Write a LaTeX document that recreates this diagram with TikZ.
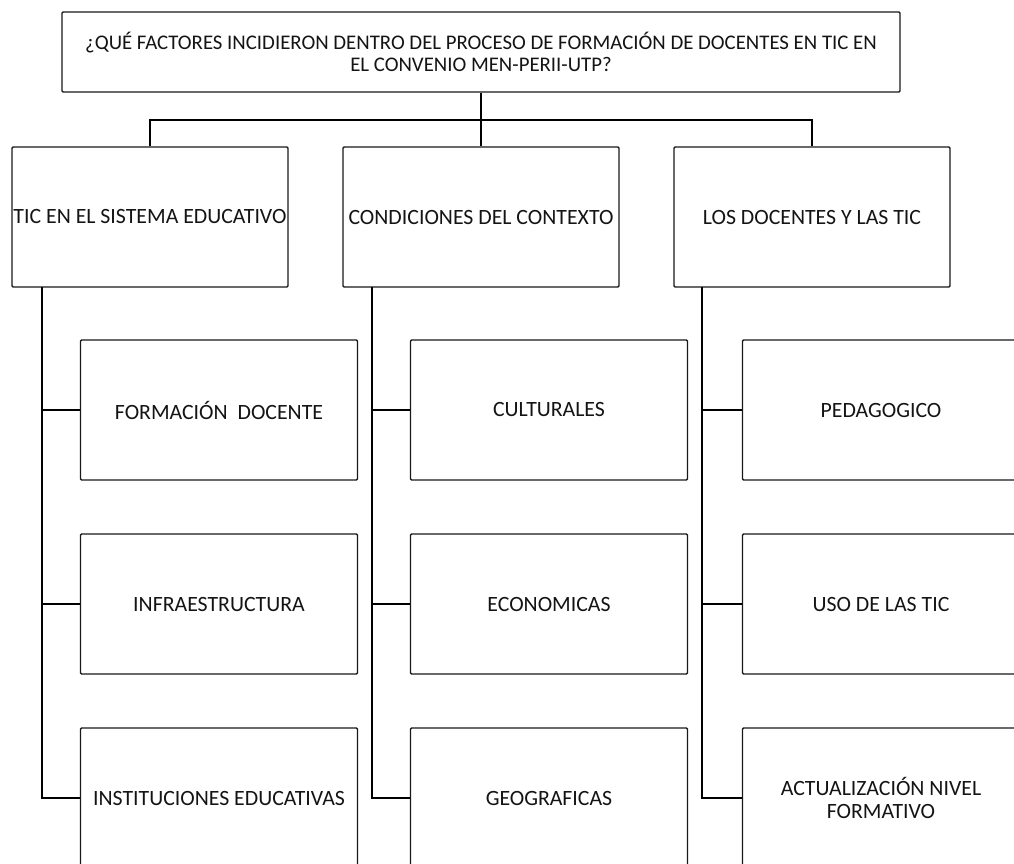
\documentclass[tikz,border=0pt]{standalone}
\usepackage{fontspec}
\setmainfont{Carlito}
\begin{document}
\begin{tikzpicture}[x=1pt,y=-1pt,
  box/.style={draw=black!90, line width=1.4pt, rounded corners=1.2pt, fill=white,
    inner sep=0pt, align=center, text=black!92,
    font=\fontsize{21.8}{23}\selectfont},
  topbox/.style={box, minimum width=838pt, minimum height=80pt,
    font=\fontsize{20.8}{21.5}\selectfont},
  lvlbox/.style={box, minimum width=276pt, minimum height=140pt},
  kidbox/.style={box, minimum width=277pt, minimum height=140pt},
  link/.style={draw=black, line width=2.4pt},
  thinlink/.style={draw=black, line width=1.6pt}]
\useasboundingbox (0,0) rectangle (1014,864);
\clip (0,0) rectangle (1014,864);
\fill[white] (0,0) rectangle (1014,864);

% nodes
\node[topbox] (top) at (481,52) {¿QUÉ FACTORES INCIDIERON DENTRO DEL PROCESO DE FORMACIÓN DE DOCENTES EN TIC EN\\EL CONVENIO MEN-PERII-UTP?};

\node[lvlbox] (b1) at (150,217) {TIC EN EL SISTEMA EDUCATIVO};
\node[lvlbox] (b2) at (481,217) {CONDICIONES DEL CONTEXTO};
\node[lvlbox] (b3) at (812,217) {LOS DOCENTES Y LAS TIC};

\node[kidbox] (c11) at (219,410) {FORMACIÓN\ \ DOCENTE};
\node[kidbox] (c12) at (219,604) {INFRAESTRUCTURA};
\node[kidbox] (c13) at (219,798) {INSTITUCIONES EDUCATIVAS};

\node[kidbox] (c21) at (549,410) {CULTURALES};
\node[kidbox] (c22) at (549,604) {ECONOMICAS};
\node[kidbox] (c23) at (549,798) {GEOGRAFICAS};

\node[kidbox] (c31) at (881,410) {PEDAGOGICO};
\node[kidbox] (c32) at (881,604) {USO DE LAS TIC};
\node[kidbox] (c33) at (881,798) {ACTUALIZACIÓN NIVEL\\FORMATIVO};

% coordinates
\coordinate (bar) at (150,120);
\coordinate (t1) at (42,287);
\coordinate (t2) at (372,287);
\coordinate (t3) at (702,287);

% top connectors
\draw[link] (top.south) -- (b2.north);
\draw[thinlink] (b1.north) -- (b1.north |- bar) -| (b3.north);

% trunks
\draw[link] (t1) |- (c13.west);
\draw[link] (t2) |- (c23.west);
\draw[link] (t3) |- (c33.west);
\draw[thinlink] (t1 |- c11.west) -- (c11.west);
\draw[thinlink] (t1 |- c12.west) -- (c12.west);
\draw[thinlink] (t2 |- c21.west) -- (c21.west);
\draw[thinlink] (t2 |- c22.west) -- (c22.west);
\draw[thinlink] (t3 |- c31.west) -- (c31.west);
\draw[thinlink] (t3 |- c32.west) -- (c32.west);
\end{tikzpicture}
\end{document}
